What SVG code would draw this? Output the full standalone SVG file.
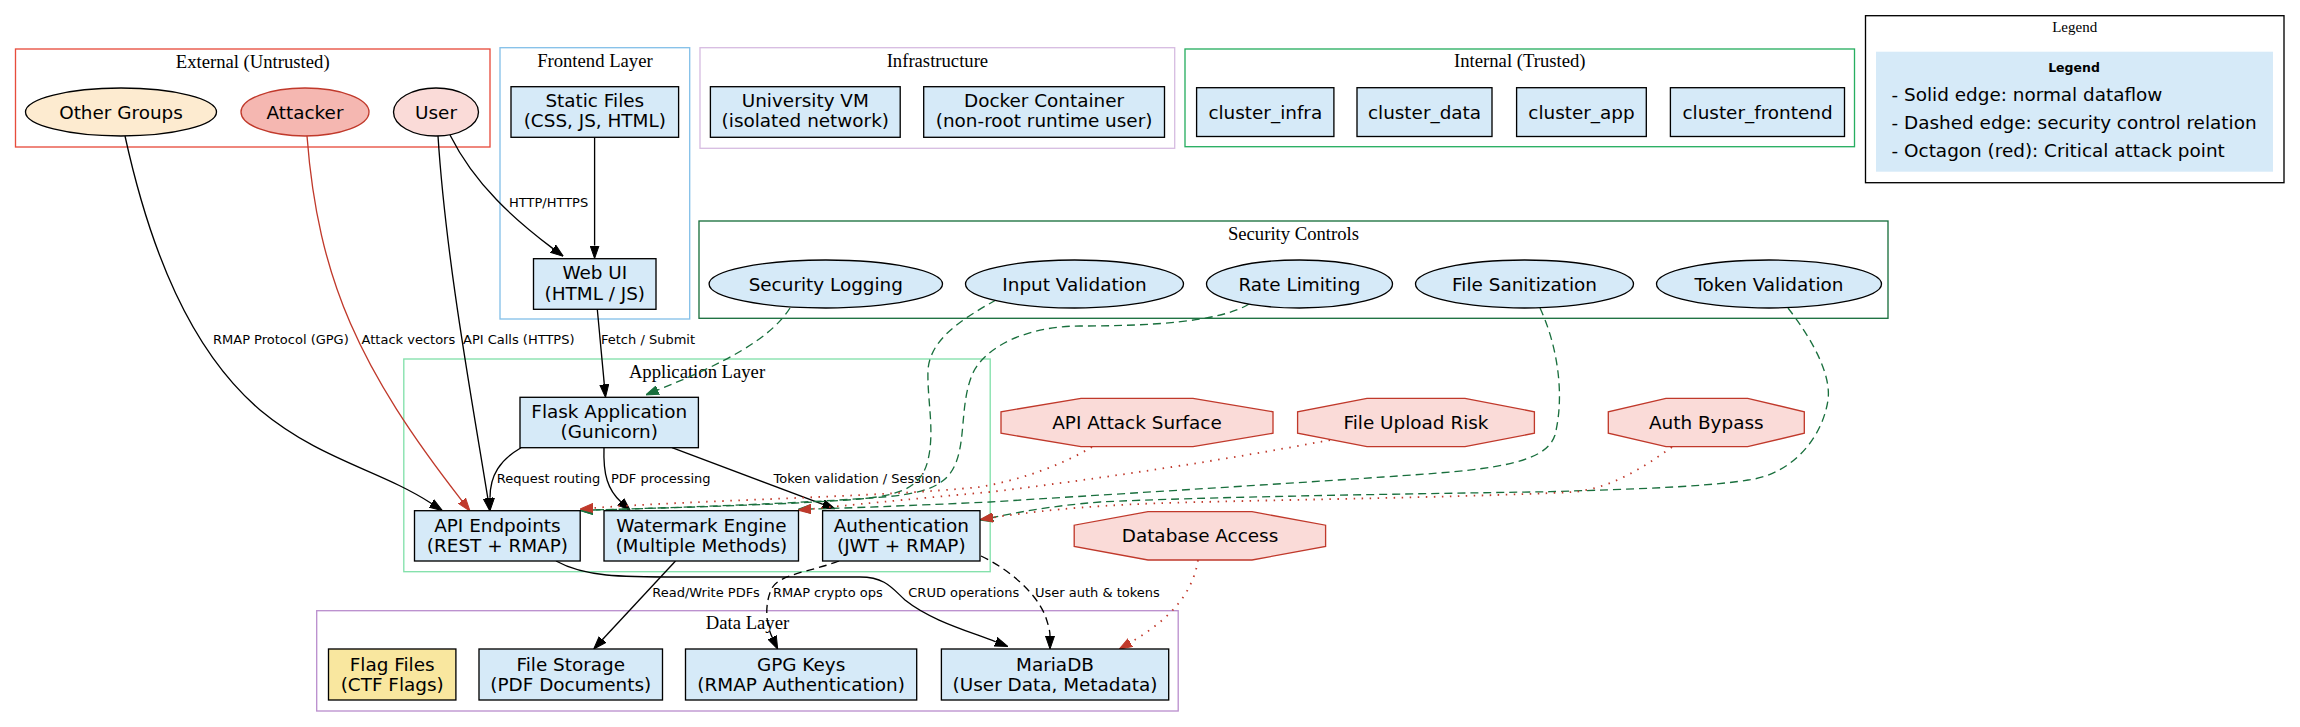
<svg xmlns="http://www.w3.org/2000/svg" width="2300" height="727" viewBox="0 0 2300 727">
<defs>
<style>
.cl{fill:none;stroke-width:1.33}
.clt{font-family:'Liberation Serif','Times New Roman',serif;font-size:18.67px;text-anchor:middle;fill:#000}
.n{fill:#d6eaf8;stroke:#000;stroke-width:1.33}
.t{font-family:'DejaVu Sans',Verdana,sans-serif;font-size:18.4px;text-anchor:middle;fill:#000}
.el{font-family:'DejaVu Sans',Verdana,sans-serif;font-size:13px;fill:#000}
.e{fill:none;stroke:#000;stroke-width:1.33}
.ed{fill:none;stroke:#000;stroke-width:1.33;stroke-dasharray:8,5}
.er{fill:none;stroke:#c0392b;stroke-width:1.33}
.eg{fill:none;stroke:#196f3d;stroke-width:1.33;stroke-dasharray:8,5}
.dot{fill:none;stroke:#c0392b;stroke-width:1.8;stroke-dasharray:1.5,6.5}
.oct{fill:#fadbd8;stroke:#c0392b;stroke-width:1.33}
</style>
<marker id="ab" viewBox="0 0 13 10" refX="0" refY="5" markerWidth="13" markerHeight="10" markerUnits="userSpaceOnUse" orient="auto"><path d="M0,0.5 L13,5 L0,9.5 z" fill="#000" stroke="#000" stroke-width="1"/></marker>
<marker id="ar" viewBox="0 0 13 10" refX="0" refY="5" markerWidth="13" markerHeight="10" markerUnits="userSpaceOnUse" orient="auto"><path d="M0,0.5 L13,5 L0,9.5 z" fill="#c0392b" stroke="#c0392b" stroke-width="1"/></marker>
<marker id="ag" viewBox="0 0 13 10" refX="0" refY="5" markerWidth="13" markerHeight="10" markerUnits="userSpaceOnUse" orient="auto"><path d="M0,0.5 L13,5 L0,9.5 z" fill="#196f3d" stroke="#196f3d" stroke-width="1"/></marker>
</defs>
<rect x="0" y="0" width="2300" height="727" fill="#fff"/>

<g id="clusters">
<rect class="cl" x="15.5" y="49" width="474.5" height="98" stroke="#e74c3c"/>
<text class="clt" x="252.7" y="67.7">External (Untrusted)</text>
<rect class="cl" x="500" y="47.7" width="189.7" height="271.3" stroke="#85c1e9"/>
<text class="clt" x="594.9" y="66.7">Frontend Layer</text>
<rect class="cl" x="700" y="47.7" width="474.7" height="100.6" stroke="#d7bde2"/>
<text class="clt" x="937.4" y="66.7">Infrastructure</text>
<rect class="cl" x="1185" y="49" width="669.5" height="97.7" stroke="#27ae60"/>
<text class="clt" x="1519.8" y="66.5">Internal (Trusted)</text>
<rect class="cl" x="699" y="221" width="1189" height="97.3" stroke="#196f3d"/>
<text class="clt" x="1293.5" y="240">Security Controls</text>
<rect class="cl" x="403.8" y="359" width="586.4" height="212.7" stroke="#82e0aa"/>
<text class="clt" x="697" y="377.7">Application Layer</text>
<rect class="cl" x="316.7" y="610.7" width="861.5" height="100.3" stroke="#bb8fce"/>
<text class="clt" x="747.5" y="629.3">Data Layer</text>
<rect class="cl" x="1865.5" y="15.7" width="418.5" height="167" stroke="#000"/>
<text class="clt" x="2074.7" y="32" style="font-size:15px">Legend</text>
</g>

<g id="edges">
<path class="e" d="M125,136 C150,250 190,350 260,410 C320,460 380,470 431.5,503.5" marker-end="url(#ab)"/>
<text class="el" x="213" y="344">RMAP Protocol (GPG)</text>
<path class="er" d="M307,136 C318,280 360,370 462,500.8" marker-end="url(#ar)"/>
<text class="el" x="361.6" y="344">Attack vectors</text>
<path class="e" d="M438,136 C446,260 472,400 487.8,498.2" marker-end="url(#ab)"/>
<text class="el" x="463" y="344">API Calls (HTTPS)</text>
<path class="e" d="M450,135 C475,185 515,220 553,248.6" marker-end="url(#ab)"/>
<text class="el" x="509" y="207.4">HTTP/HTTPS</text>
<path class="e" d="M594.6,137.3 L594.6,245.5" marker-end="url(#ab)"/>
<path class="e" d="M597.3,309.3 L604.3,384.4" marker-end="url(#ab)"/>
<text class="el" x="601" y="344">Fetch / Submit</text>
<path class="e" d="M521,447.7 C500,460 490,475 490,497.7" marker-end="url(#ab)"/>
<text class="el" x="496.8" y="483">Request routing</text>
<path class="e" d="M604,447.7 C603,475 608,490 620.8,501.8" marker-end="url(#ab)"/>
<text class="el" x="611" y="483">PDF processing</text>
<path class="e" d="M672,447.7 L823,504.3" marker-end="url(#ab)"/>
<text class="el" x="773.5" y="483">Token validation / Session</text>
<path class="e" d="M556,561 C585,577 620,577 680,577 L860,577 C885,577 892,588 905,600 C930,620 965,630 995.8,641.8" marker-end="url(#ab)"/>
<text class="el" x="908.3" y="597">CRUD operations</text>
<path class="e" d="M675.5,561 L602.5,639.5" marker-end="url(#ab)"/>
<text class="el" x="652.3" y="597">Read/Write PDFs</text>
<path class="ed" d="M839,561 C810,572 780,574 772,588 C765,602 765,622 772.2,637.4" marker-end="url(#ab)"/>
<text class="el" x="773" y="597">RMAP crypto ops</text>
<path class="ed" d="M981,556 C1010,570 1035,592 1045,615 C1048,624 1050,630 1050,636" marker-end="url(#ab)"/>
<text class="el" x="1035" y="597">User auth &amp; tokens</text>
<path class="dot" d="M1198,560 C1192,600 1160,625 1130.3,642.6" marker-end="url(#ar)"/>

<path class="eg" d="M790,308 C770,340 720,365 657.8,390" marker-end="url(#ag)"/>
<path class="eg" d="M996,300 C960,320 930,340 928,370 C927,400 935,430 928,460 C922,485 905,495 860,499 C800,504 700,507 593,510" marker-end="url(#ag)"/>
<path class="eg" d="M1249,304 C1220,322 1150,326 1080,326 C1030,326 985,345 972,375 C960,405 966,440 955,465 C945,488 920,495 870,498 C800,503 700,507 593,510" marker-end="url(#ag)"/>
<path class="eg" d="M1540,308 C1555,340 1566,390 1555,435 C1545,465 1490,470 1383,477 C1250,486 1100,495 990,502 C900,506 850,508 811,509" marker-end="url(#ag)"/>
<path class="eg" d="M1788,308 C1805,330 1832,370 1828,400 C1822,440 1790,475 1748,480 C1700,488 1600,490 1550,491.7 C1400,494 1200,497 1100,502 C1050,506 1020,512 993,517.5" marker-end="url(#ag)"/>

<path class="dot" d="M1092,447 C1060,466 1020,480 980,487 C880,497 700,500 593,508" marker-end="url(#ar)"/>
<path class="dot" d="M1330,440 C1200,465 1050,485 990,492 C900,500 850,505 811,509" marker-end="url(#ar)"/>
<path class="dot" d="M1672,447 C1640,470 1610,488 1574,492 C1450,498 1250,500 1158,503.3 C1080,506 1030,512 993,517.5" marker-end="url(#ar)"/>
</g>

<g id="other_groups"><ellipse cx="121" cy="112" rx="95.5" ry="24" fill="#fdebd0" stroke="#000" stroke-width="1.33"/><text class="t" x="121" y="118.5">Other Groups</text></g>
<g id="attacker"><ellipse cx="305" cy="112" rx="64" ry="24" fill="#f5b7b1" stroke="#c0392b" stroke-width="1.33"/><text class="t" x="305" y="118.5">Attacker</text></g>
<g id="user"><ellipse cx="436" cy="112" rx="42.5" ry="24" fill="#fadbd8" stroke="#000" stroke-width="1.33"/><text class="t" x="436" y="118.5">User</text></g>

<g id="static_files"><rect class="n" x="511" y="86.7" width="167.6" height="50.6"/><text class="t" x="594.8" y="107.2">Static Files</text><text class="t" x="594.8" y="127.2">(CSS, JS, HTML)</text></g>
<g id="web_ui"><rect class="n" x="533.5" y="258.7" width="122.5" height="50.6"/><text class="t" x="594.8" y="279.3">Web UI</text><text class="t" x="594.8" y="299.7">(HTML / JS)</text></g>

<g id="university_vm"><rect class="n" x="710.4" y="86.7" width="189.8" height="50.6"/><text class="t" x="805.3" y="107.4">University VM</text><text class="t" x="805.3" y="127.2">(isolated network)</text></g>
<g id="docker_container"><rect class="n" x="923.7" y="86.7" width="240.8" height="50.6"/><text class="t" x="1044.1" y="107.4">Docker Container</text><text class="t" x="1044.1" y="127.2">(non-root runtime user)</text></g>

<g id="cluster_infra"><rect class="n" x="1196.6" y="87.7" width="137.3" height="48.8"/><text class="t" x="1265.3" y="118.5">cluster_infra</text></g>
<g id="cluster_data"><rect class="n" x="1357" y="87.7" width="135" height="48.8"/><text class="t" x="1424.5" y="118.5">cluster_data</text></g>
<g id="cluster_app"><rect class="n" x="1516.6" y="87.7" width="129.7" height="48.8"/><text class="t" x="1581.5" y="118.5">cluster_app</text></g>
<g id="cluster_frontend"><rect class="n" x="1670.4" y="87.7" width="174.1" height="48.8"/><text class="t" x="1757.5" y="118.5">cluster_frontend</text></g>

<g id="legend"><rect x="1876" y="51.7" width="397" height="120" fill="#d6eaf8"/>
<text x="2074" y="72.2" style="font-family:'DejaVu Sans',sans-serif;font-size:12.5px;font-weight:bold;text-anchor:middle">Legend</text>
<text x="1891.6" y="100.8" style="font-family:'DejaVu Sans',sans-serif;font-size:18.4px">- Solid edge: normal dataflow</text>
<text x="1891.6" y="128.8" style="font-family:'DejaVu Sans',sans-serif;font-size:18.4px">- Dashed edge: security control relation</text>
<text x="1891.6" y="156.5" style="font-family:'DejaVu Sans',sans-serif;font-size:18.4px">- Octagon (red): Critical attack point</text>
</g>

<g id="security_logging"><ellipse cx="825.8" cy="284" rx="116.7" ry="24" fill="#d6eaf8" stroke="#000" stroke-width="1.33"/><text class="t" x="825.8" y="290.5">Security Logging</text></g>
<g id="input_validation"><ellipse cx="1074.5" cy="284" rx="109" ry="24" fill="#d6eaf8" stroke="#000" stroke-width="1.33"/><text class="t" x="1074.5" y="290.5">Input Validation</text></g>
<g id="rate_limiting"><ellipse cx="1299.5" cy="284" rx="93" ry="24" fill="#d6eaf8" stroke="#000" stroke-width="1.33"/><text class="t" x="1299.5" y="290.5">Rate Limiting</text></g>
<g id="file_sanitization"><ellipse cx="1524.5" cy="284" rx="109" ry="24" fill="#d6eaf8" stroke="#000" stroke-width="1.33"/><text class="t" x="1524.5" y="290.5">File Sanitization</text></g>
<g id="token_validation"><ellipse cx="1769" cy="284" rx="112.5" ry="24" fill="#d6eaf8" stroke="#000" stroke-width="1.33"/><text class="t" x="1769" y="290.5">Token Validation</text></g>

<g id="flask_app"><rect class="n" x="520" y="397.3" width="178.4" height="50.4"/><text class="t" x="609.2" y="418.2">Flask Application</text><text class="t" x="609.2" y="438.2">(Gunicorn)</text></g>
<g id="api_endpoints"><rect class="n" x="414.5" y="510.7" width="165.7" height="50.3"/><text class="t" x="497.4" y="531.5">API Endpoints</text><text class="t" x="497.4" y="551.5">(REST + RMAP)</text></g>
<g id="watermark_engine"><rect class="n" x="604" y="510.7" width="194.5" height="50.3"/><text class="t" x="701.3" y="531.5">Watermark Engine</text><text class="t" x="701.3" y="551.5">(Multiple Methods)</text></g>
<g id="authentication"><rect class="n" x="822.6" y="510.7" width="157.4" height="50.3"/><text class="t" x="901.3" y="531.5">Authentication</text><text class="t" x="901.3" y="551.5">(JWT + RMAP)</text></g>

<g id="api_attack_surface"><polygon class="oct" points="1081,398.3 1193,398.3 1273,411.8 1273,433.2 1193,446.7 1081,446.7 1001,433.2 1001,411.8"/><text class="t" x="1137" y="429">API Attack Surface</text></g>
<g id="file_upload_risk"><polygon class="oct" points="1367,398.3 1465,398.3 1534.4,411.8 1534.4,433.2 1465,446.7 1367,446.7 1297.6,433.2 1297.6,411.8"/><text class="t" x="1416" y="429">File Upload Risk</text></g>
<g id="auth_bypass"><polygon class="oct" points="1666,398.3 1747.7,398.3 1804.3,411.8 1804.3,433.2 1747.7,446.7 1666,446.7 1608.3,433.2 1608.3,411.8"/><text class="t" x="1706.3" y="429">Auth Bypass</text></g>
<g id="database_access"><polygon class="oct" points="1148,511.7 1252,511.7 1325.6,525.2 1325.6,546.5 1252,560 1148,560 1074.2,546.5 1074.2,525.2"/><text class="t" x="1200" y="542.4">Database Access</text></g>

<g id="flag_files"><rect x="328.5" y="649" width="127.4" height="51" fill="#f9e79f" stroke="#000" stroke-width="1.33"/><text class="t" x="392.2" y="670.8">Flag Files</text><text class="t" x="392.2" y="690.5">(CTF Flags)</text></g>
<g id="file_storage"><rect class="n" x="479" y="649" width="183.5" height="51"/><text class="t" x="570.8" y="670.8">File Storage</text><text class="t" x="570.8" y="690.5">(PDF Documents)</text></g>
<g id="gpg_keys"><rect class="n" x="685.5" y="649" width="231.2" height="51"/><text class="t" x="801.1" y="670.8">GPG Keys</text><text class="t" x="801.1" y="690.5">(RMAP Authentication)</text></g>
<g id="mariadb"><rect class="n" x="941.4" y="649" width="227.3" height="51"/><text class="t" x="1055" y="670.8">MariaDB</text><text class="t" x="1055" y="690.5">(User Data, Metadata)</text></g>
</svg>
